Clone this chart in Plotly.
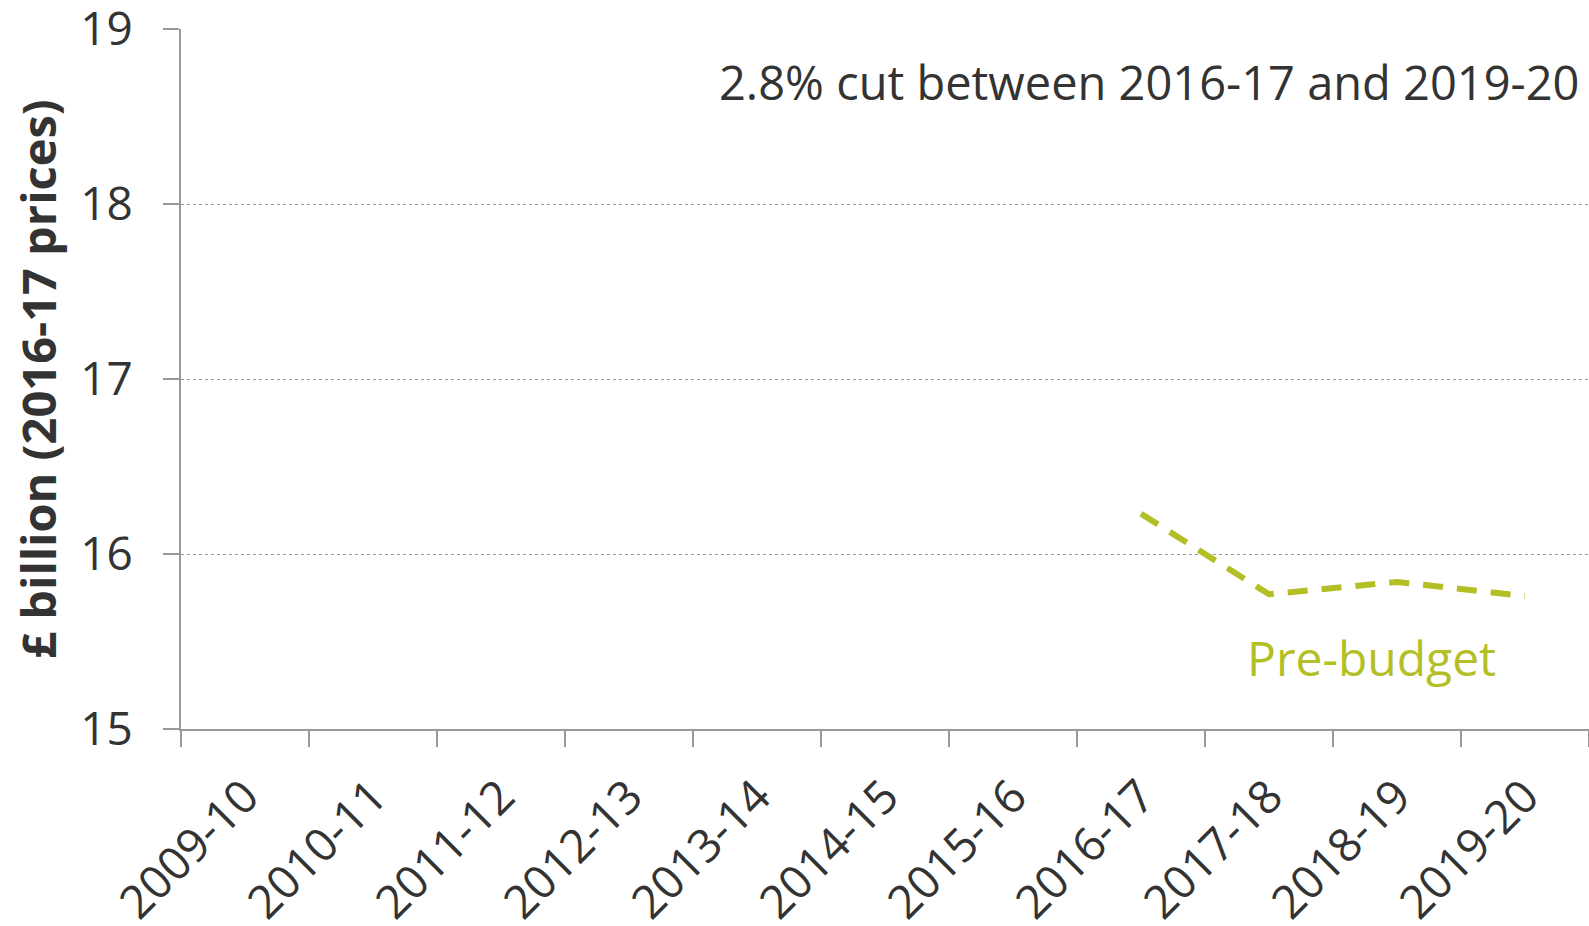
import plotly.graph_objects as go

years = ['2009-10', '2010-11', '2011-12', '2012-13', '2013-14', '2014-15',
         '2015-16', '2016-17', '2017-18', '2018-19', '2019-20']
pre_budget_years = ['2016-17', '2017-18', '2018-19', '2019-20']
pre_budget = [16.23, 15.77, 15.84, 15.76]

green = '#b3bf25'
text_col = '#333333'
axis_col = '#999999'

fig = go.Figure()
fig.add_trace(go.Scatter(
    x=pre_budget_years,
    y=pre_budget,
    mode='lines',
    line=dict(color=green, width=6, dash='20px,14px'),
    showlegend=False,
    hoverinfo='skip'
))

fig.add_annotation(
    x=0.994, xref='paper', xanchor='right',
    y=18.70, yref='y', yanchor='middle',
    text='2.8% cut between 2016-17 and 2019-20',
    showarrow=False,
    font=dict(size=47, color=text_col)
)
fig.add_annotation(
    x=8.8, y=15.41, xref='x', yref='y',
    text='Pre-budget',
    showarrow=False,
    font=dict(size=48, color=green)
)

fig.update_layout(
    width=1589, height=926,
    margin=dict(l=181, r=0, t=29, b=197, autoexpand=False),
    paper_bgcolor='white',
    plot_bgcolor='white',
    font=dict(family='Open Sans', color=text_col, size=46),
    xaxis=dict(
        type='category',
        categoryorder='array',
        categoryarray=years,
        range=[-0.5, 10.5],
        tickmode='array',
        tickvals=years,
        ticktext=years,
        tickangle=-45,
        tickson='boundaries',
        ticks='outside',
        ticklen=16,
        tickcolor=axis_col,
        tickwidth=2,
        showline=True,
        linecolor=axis_col,
        linewidth=2,
        showgrid=False,
        automargin=False,
        tickfont=dict(size=46),
        ticklabelstandoff=20,
    ),
    yaxis=dict(
        range=[15, 19],
        tickvals=[15, 16, 17, 18, 19],
        ticks='outside',
        ticklen=16,
        tickcolor=axis_col,
        tickwidth=2,
        showline=True,
        linecolor=axis_col,
        linewidth=2,
        showgrid=True,
        gridcolor='#999999',
        griddash='dot',
        gridwidth=1,
        zeroline=False,
        automargin=False,
        tickfont=dict(size=46),
        ticklabelstandoff=21,
        ticklabeloverflow='allow',
        title=dict(
            text='<b>£ billion (2016-17 prices)</b>',
            font=dict(size=47),
            standoff=9,
        ),
    ),
)

# drop the page margin so the figure sits flush in the window
fig.write_html(
    'out.html',
    config={'displayModeBar': False},
    post_script="document.body.style.margin='0';document.body.style.overflow='hidden';"
)
